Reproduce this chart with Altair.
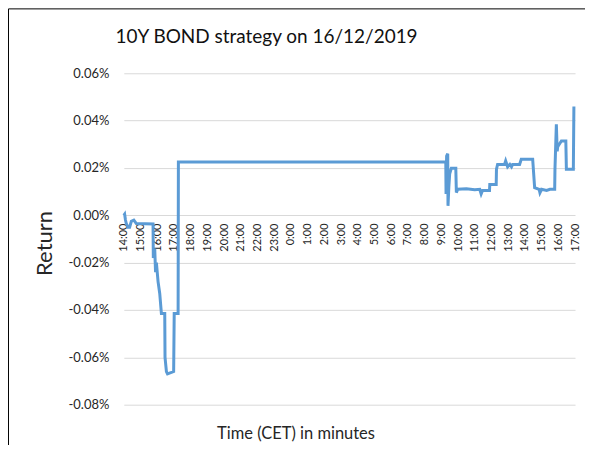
import altair as alt
import pandas as pd

# minutes after 14:00 on 16/12/2019
minutes = [0, 3, 6, 9, 15, 21, 27, 36, 45, 105, 106, 111, 114, 117, 123, 129, 135, 147, 148, 153, 157,
           179, 181, 195, 196,
           1156, 1157, 1159, 1163, 1164, 1167, 1170, 1176, 1192, 1194, 1199, 1230, 1260, 1278, 1283, 1288,
           1313, 1314, 1337, 1338, 1342, 1367, 1371, 1378, 1386, 1392, 1396, 1421, 1427, 1468, 1475, 1491,
           1494, 1500, 1518, 1530, 1547, 1548, 1553, 1556, 1558, 1571, 1587, 1589, 1614, 1616]
# return in %
returns = [0.000, 0.0005, -0.002, -0.0035, -0.005, -0.005, -0.0025, -0.002, -0.0035, -0.0037, -0.018,
           -0.014, -0.024, -0.020, -0.028, -0.033, -0.0415, -0.0415, -0.060, -0.066, -0.067,
           -0.066, -0.0415, -0.0415, 0.0225,
           0.0225, 0.009, 0.025, 0.026, 0.004, 0.012, 0.0175, 0.0199, 0.0199, 0.0096, 0.011, 0.0112,
           0.0108, 0.011, 0.009, 0.0105, 0.0105, 0.013, 0.013, 0.0195, 0.0215, 0.0215, 0.023, 0.0205,
           0.0215, 0.0205, 0.0215, 0.0215, 0.0237, 0.0237, 0.0117, 0.011, 0.0095, 0.011, 0.0105, 0.011,
           0.011, 0.0195, 0.0384, 0.027, 0.029, 0.0314, 0.0314, 0.0195, 0.0195, 0.046]

hour_ticks = list(range(0, 1621, 60))
y_ticks = [-0.08, -0.06, -0.04, -0.02, 0.0, 0.02, 0.04, 0.06]

df = pd.DataFrame({"minute": minutes, "ret": returns, "idx": list(range(len(minutes)))})

FONT = "Lato"
TXT = "#262626"

line = alt.Chart(df).mark_line(color="#5B9BD5", strokeWidth=3).encode(
    x=alt.X("minute:Q",
            scale=alt.Scale(domain=[0, 1620], nice=False, zero=False),
            axis=alt.Axis(values=hour_ticks,
                          labelExpr="floor((datum.value / 60 + 14) % 24) + ':00'",
                          labelAngle=270, offset=-190, domain=False, ticks=False, grid=False,
                          labelPadding=8, labelFontSize=11, labelColor=TXT, labelFont=FONT,
                          labelOverlap=False,
                          title="Time (CET) in minutes", titleX=172, titleY=219,
                          titleFontSize=16.5, titleBaseline="middle", titleAlign="center",
                          titleFontWeight="normal", titleColor=TXT, titleFont=FONT)),
    y=alt.Y("ret:Q",
            scale=alt.Scale(domain=[-0.08, 0.06], nice=False, zero=False),
            axis=alt.Axis(values=y_ticks,
                          labelExpr="replace(format(datum.value, '.2f'), '\u2212', '-') + '%'",
                          domain=False, ticks=False, grid=True, gridColor="#D9D9D9", gridWidth=1,
                          labelPadding=15, labelFontSize=13, labelColor=TXT, labelFont=FONT,
                          title="Return", titleAngle=270, titleX=-79, titleY=170,
                          titleFontSize=22, titleBaseline="middle", titleAlign="center",
                          titleFontWeight="normal", titleColor=TXT, titleFont=FONT)),
    order="idx:Q",
)

frame = alt.Chart(pd.DataFrame({"a": [0]})).mark_rect(
    fillOpacity=0, stroke="#000000", strokeWidth=1
).encode(
    x=alt.value(-115.5), x2=alt.value(800), y=alt.value(-64.5), y2=alt.value(800)
)

chart = alt.layer(frame, line).properties(
    width=452, height=332,
    title=alt.TitleParams("10Y BOND strategy on 16/12/2019", fontSize=19, font=FONT,
                          color="#111111", fontWeight="normal", anchor="middle", frame="group",
                          dx=-83, dy=65, offset=26),
    autosize=alt.AutoSizeParams(type="none"),
    padding={"left": 116, "top": 65, "right": 10, "bottom": 40},
).configure_view(stroke="transparent")

chart.save("out.html", embed_options={"renderer": "svg", "actions": False})
